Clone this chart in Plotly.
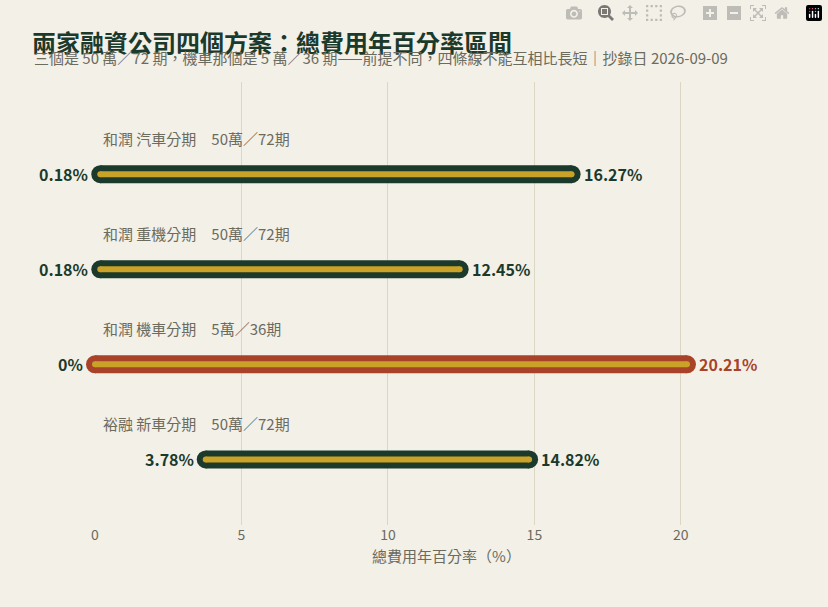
import plotly.graph_objects as go

labels = ["和潤 汽車分期　50萬／72期", "和潤 重機分期　50萬／72期", "和潤 機車分期　5萬／36期", "裕融 新車分期　50萬／72期"]
low = [0.18, 0.18, 0.0, 3.78]
high = [16.27, 12.45, 20.21, 14.82]
low_text = ["0.18%", "0.18%", "0%", "3.78%"]
high_text = ["16.27%", "12.45%", "20.21%", "14.82%"]
highlight = [False, False, True, False]

DARK = "#1b3a2b"
RED = "#a8432a"
GOLD = "#c9a227"
FONT = "Noto Sans CJK TC"

fig = go.Figure()
ann = []
for i, (lab, lo, hi) in enumerate(zip(labels, low, high)):
    oc = RED if highlight[i] else DARK
    fig.add_trace(go.Scatter(x=[lo, hi], y=[i, i], mode="lines+markers",
                             line=dict(color=oc, width=18), marker=dict(color=oc, size=18),
                             hoverinfo="skip", showlegend=False, cliponaxis=False))
    fig.add_trace(go.Scatter(x=[lo, hi], y=[i, i], mode="lines+markers",
                             line=dict(color=GOLD, width=6), marker=dict(color=GOLD, size=6),
                             hoverinfo="skip", showlegend=False, cliponaxis=False))
    ann.append(dict(x=0.2, y=i - 0.38, text=lab, showarrow=False, xanchor="left",
                    font=dict(size=15, color="#6b6b5e", family=FONT)))
    ann.append(dict(x=lo, y=i, text=f"<b>{low_text[i]}</b>", showarrow=False, xanchor="right",
                    xshift=-10, font=dict(size=16, color=DARK, family=FONT)))
    ann.append(dict(x=hi, y=i, text=f"<b>{high_text[i]}</b>", showarrow=False, xanchor="left",
                    xshift=10, font=dict(size=16, color=oc, family=FONT)))

ann.append(dict(
    xref="paper", yref="paper", x=(32 - 95) / 703, y=1 + (82 - 70) / 443, xanchor="left", yanchor="bottom",
    text="三個是 50 萬／72 期，機車那個是 5 萬／36 期——前提不同，四條線不能互相比長短｜抄錄日 2026-09-09",
    showarrow=False, font=dict(size=15, color="#6b6b5e", family=FONT)))

fig.update_layout(
    width=828, height=607, paper_bgcolor="#f3f0e8", plot_bgcolor="#f3f0e8",
    margin=dict(l=95, r=30, t=82, b=82),
    title=dict(text="<b>兩家融資公司四個方案：總費用年百分率區間</b>", x=32/828, xanchor="left",
               y=1 - 44/607, yanchor="middle", font=dict(size=24, color=DARK, family=FONT)),
    font=dict(family=FONT),
    xaxis=dict(range=[0, 24], tickvals=[0, 5, 10, 15, 20], showgrid=True, gridcolor="#dbd7c3",
               zeroline=False, tickfont=dict(size=14, color="#6b6b5e"),
               title=dict(text="總費用年百分率（%）", font=dict(size=15, color="#6b6b5e"), standoff=8)),
    yaxis=dict(range=[3.69, -0.97], showticklabels=False, showgrid=False, zeroline=False),
    annotations=ann,
)
fig.write_html("out.html", post_script="document.body.style.margin='0';")
